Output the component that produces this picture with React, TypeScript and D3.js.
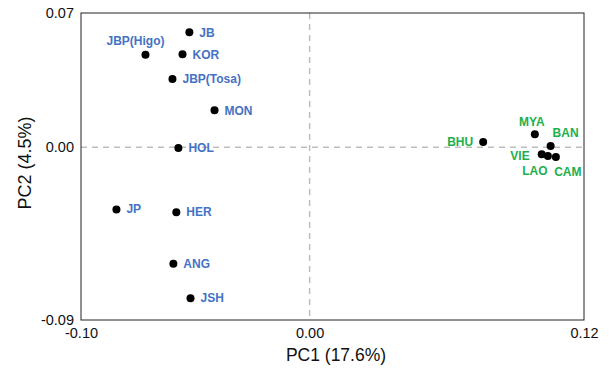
import React, { useEffect, useRef } from "react";
import * as d3 from "d3";

// populations and their scores on the first two PCs
const groups = ["JB", "JBP(Higo)", "KOR", "JBP(Tosa)", "MON", "HOL", "JP", "HER", "ANG", "JSH",
  "BHU", "MYA", "BAN", "VIE", "LAO", "CAM"];
const pc1 = [-0.0526, -0.0718, -0.0556, -0.06, -0.0416, -0.0574, -0.0845, -0.0583, -0.0596, -0.0521,
  0.0759, 0.0985, 0.1054, 0.1015, 0.1042, 0.1077];
const pc2 = [0.06, 0.0483, 0.0485, 0.0356, 0.0193, -0.0003, -0.0324, -0.0338, -0.0607, -0.0786,
  0.0028, 0.0068, 0.0007, -0.0036, -0.0045, -0.0051];
const cluster = ["north", "north", "north", "north", "north", "north", "north", "north", "north", "north",
  "south", "south", "south", "south", "south", "south"];

const xTicks = [-0.1, 0, 0.12];
const yTicks = [0.07, 0, -0.09];
const xTitle = "PC1 (17.6%)";
const yTitle = "PC2 (4.5%)";

const colors: Record<string, string> = { north: "#4472c4", south: "#1cb04c" };

// where each label sits relative to its dot
const labelPos: Record<string, { dx: number; dy: number; anchor: string }> = {
  "JBP(Higo)": { dx: -10, dy: -14, anchor: "middle" },
  JP: { dx: 10, dy: -1, anchor: "start" },
  BHU: { dx: -10, dy: 0, anchor: "end" },
  MYA: { dx: -3, dy: -13, anchor: "middle" },
  BAN: { dx: 2, dy: -13, anchor: "start" },
  VIE: { dx: -12, dy: 1, anchor: "end" },
  LAO: { dx: -13, dy: 15, anchor: "middle" },
  CAM: { dx: 12, dy: 15, anchor: "middle" },
};

const font = "'Liberation Sans', Arial, Helvetica, sans-serif";

export default function App() {
  const ref = useRef<SVGSVGElement>(null);

  useEffect(() => {
    const svg = d3.select(ref.current);
    svg.selectAll("*").remove();

    const left = 81, right = 584, top = 13, bottom = 320;
    const x = d3.scaleLinear().domain([-0.1, 0.12]).range([left, right]);
    const y = d3.scaleLinear().domain([-0.09, 0.07]).range([bottom, top]);
    const fmt = (d: number) => d3.format(".2f")(d).replace("−", "-");

    // zero lines
    svg.append("line")
      .attr("x1", x(0)).attr("x2", x(0)).attr("y1", top).attr("y2", bottom)
      .attr("stroke", "#bdbdbd").attr("stroke-width", 1.5).attr("stroke-dasharray", "6,5");
    svg.append("line")
      .attr("x1", left).attr("x2", right).attr("y1", y(0)).attr("y2", y(0))
      .attr("stroke", "#bdbdbd").attr("stroke-width", 1.5).attr("stroke-dasharray", "6,5");

    svg.append("rect")
      .attr("x", left).attr("y", top).attr("width", right - left).attr("height", bottom - top)
      .attr("fill", "none").attr("stroke", "#222").attr("stroke-width", 1);

    const gx = svg.append("g").attr("transform", "translate(0," + bottom + ")")
      .call(d3.axisBottom(x).tickValues(xTicks).tickSize(0).tickPadding(8).tickFormat(fmt as any));
    const gy = svg.append("g").attr("transform", "translate(" + left + ",0)")
      .call(d3.axisLeft(y).tickValues(yTicks).tickSize(0).tickPadding(7).tickFormat(fmt as any));
    [gx, gy].forEach(g => {
      g.select(".domain").remove();
      g.selectAll("text").attr("font-size", 14.5).attr("font-family", font).attr("fill", "#111");
    });

    svg.append("text")
      .attr("x", 336).attr("y", 361)
      .attr("text-anchor", "middle").attr("font-size", 17.5).attr("font-family", font).attr("fill", "#111")
      .text(xTitle);
    svg.append("text")
      .attr("transform", "translate(31,163) rotate(-90)")
      .attr("text-anchor", "middle").attr("font-size", 18).attr("font-family", font).attr("fill", "#111")
      .text(yTitle);

    const idx = d3.range(groups.length);

    svg.selectAll(".dot")
      .data(idx)
      .enter().append("circle")
      .attr("class", "dot")
      .attr("cx", i => x(pc1[i]))
      .attr("cy", i => y(pc2[i]))
      .attr("r", 4)
      .attr("fill", "#000");

    svg.selectAll(".lbl")
      .data(idx)
      .enter().append("text")
      .attr("class", "lbl")
      .attr("x", i => x(pc1[i]) + (labelPos[groups[i]] ? labelPos[groups[i]].dx : 10))
      .attr("y", i => y(pc2[i]) + (labelPos[groups[i]] ? labelPos[groups[i]].dy : 0))
      .attr("dy", "0.36em")
      .attr("text-anchor", i => (labelPos[groups[i]] ? labelPos[groups[i]].anchor : "start"))
      .attr("font-size", 12)
      .attr("font-weight", "bold")
      .attr("font-family", font)
      .attr("fill", i => colors[cluster[i]])
      .text(i => groups[i]);
  }, []);

  return (
    <div style={{ position: "absolute", left: 0, top: 0 }}>
      <svg ref={ref} width={610} height={371} style={{ display: "block", background: "#fff" }} />
    </div>
  );
}
